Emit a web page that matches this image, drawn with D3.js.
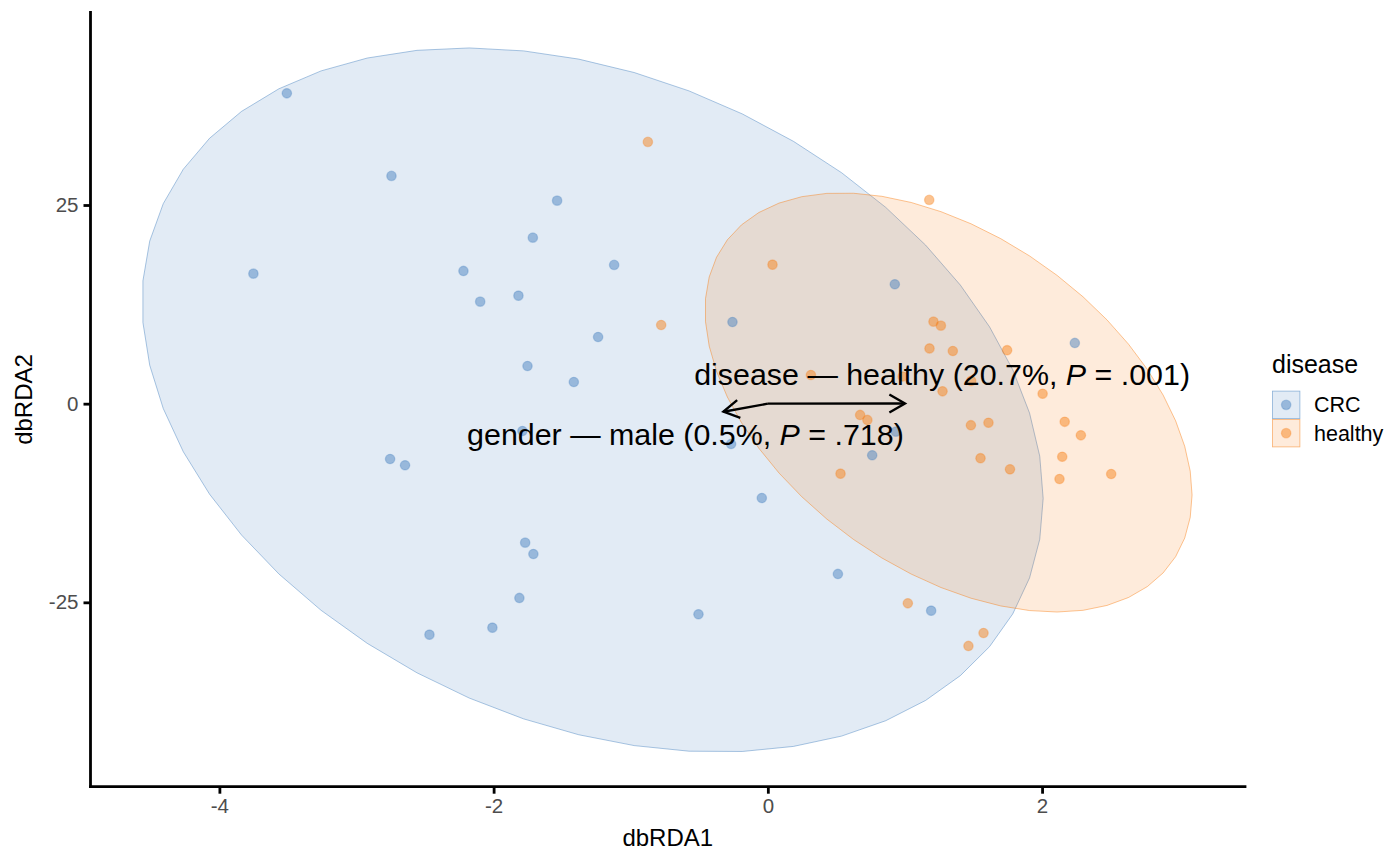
<!DOCTYPE html>
<html>
<head>
<meta charset="utf-8">
<script src="https://cdn.jsdelivr.net/npm/d3@7"></script>
<style>
  html, body { margin: 0; padding: 0; background: #ffffff; }
  svg { display: block; font-family: "Liberation Sans", Arial, Helvetica, sans-serif; }
</style>
</head>
<body>
<svg id="chart" width="1400" height="865"></svg>
<script>
// ---------------- data ----------------
const groups = ["CRC", "healthy"];
const groupColors = ["#3d7bbd", "#f77a0c"];

const crcX = [-3.508, -2.745, -1.537, -1.714, -3.752, -2.220, -1.121, -1.819, -2.098, -1.238,
              -1.753, -1.415, -1.790, -2.755, -2.646, -1.770, -1.710, -1.812, -2.009, -2.468,
              -0.506, 0.511, 1.191, -0.044, -0.268, -0.258, 0.926, 0.761, 2.239, 0.934];
const crcY = [39.06, 28.66, 25.55, 20.89, 16.36, 16.70, 17.46, 13.59, 12.84, 8.39,
              4.74, 2.73, -3.44, -6.96, -7.75, -17.49, -18.92, -24.45, -28.19, -29.07,
              -26.50, -21.43, -26.05, -11.87, -5.07, 10.28, 15.03, -6.49, 7.64, -3.52];

const healthyX = [-0.875, 1.177, 0.034, -0.778, 1.208, 1.262, 1.179, 1.349, 1.745, 0.314,
                  0.983, 1.483, 1.274, 2.004, 0.673, 0.726, 1.481, 1.609, 2.165, 2.283,
                  2.147, 1.551, 1.766, 2.127, 2.504, 0.530, 1.021, 1.573, 1.463];
const healthyY = [32.94, 25.64, 17.49, 9.90, 10.32, 9.82, 6.95, 6.63, 6.73, 3.61,
                  3.42, 2.86, 1.56, 1.25, -1.42, -2.05, -2.71, -2.40, -2.28, -3.98,
                  -6.68, -6.86, -8.26, -9.48, -8.85, -8.81, -25.12, -28.86, -30.49];

// 95% ellipses per group (centre, half-extent along x and y, correlation)
const ellipseCX = [-1.278, 1.318];
const ellipseCY = [0.466, 0.151];
const ellipseHalfW = [3.286, 1.776];
const ellipseHalfH = [44.30, 26.37];
const ellipseCorr = [-0.2798, -0.4415];

// environmental fit arrows
const envNames = ["disease \u2014 healthy", "gender \u2014 male"];
const envPct = ["20.7%", "0.5%"];
const envP = [".001", ".718"];
const arrowX = [1.0, -0.324];
const arrowY = [0.02, -1.01];
const labelX = [1.271, -0.601];
const labelY = [3.67, -3.88];

const xTicks = [-4, -2, 0, 2];
const yTicks = [-25, 0, 25];
const xDomain = [-4.94, 3.48];
const yDomain = [-48.2, 49.25];
const xTitle = "dbRDA1", yTitle = "dbRDA2", legendTitle = "disease";

// ---------------- drawing ----------------
const svg = d3.select("#chart");
const panel = {left: 90.5, right: 1245, top: 12.3, bottom: 786.7};
const x = d3.scaleLinear().domain(xDomain).range([panel.left, panel.right]);
const y = d3.scaleLinear().domain(yDomain).range([panel.bottom, panel.top]);
const color = d3.scaleOrdinal().domain(groups).range(groupColors);

// ellipses
const seg = 51;
groups.forEach((g, i) => {
  const sx = ellipseHalfW[i], sy = ellipseHalfH[i], r = ellipseCorr[i];
  const pts = d3.range(seg + 1).map(k => {
    const t = 2 * Math.PI * k / seg;
    const ex = ellipseCX[i] + Math.cos(t) * sx;
    const ey = ellipseCY[i] + Math.cos(t) * r * sy + Math.sin(t) * sy * Math.sqrt(1 - r * r);
    return [x(ex), y(ey)];
  });
  svg.append("path")
    .attr("d", d3.line()(pts) + "Z")
    .attr("fill", color(g)).attr("fill-opacity", 0.15)
    .attr("stroke", color(g)).attr("stroke-opacity", 0.55).attr("stroke-width", 0.8);
});

// points
const pointData = [];
crcX.forEach((v, i) => pointData.push({g: "CRC", x: v, y: crcY[i]}));
healthyX.forEach((v, i) => pointData.push({g: "healthy", x: v, y: healthyY[i]}));
svg.append("g").selectAll("circle").data(pointData).join("circle")
  .attr("cx", d => x(d.x)).attr("cy", d => y(d.y)).attr("r", 4.7)
  .attr("fill", d => color(d.g)).attr("fill-opacity", 0.45)
  .attr("stroke", d => color(d.g)).attr("stroke-opacity", 0.3).attr("stroke-width", 1.3);

// arrows
const arrowG = svg.append("g").attr("stroke", "#000").attr("stroke-width", 2.4)
  .attr("fill", "none").attr("stroke-linecap", "butt").attr("stroke-linejoin", "miter");
arrowX.forEach((ax, i) => {
  const x0 = x(0), y0 = y(0), x1 = x(ax), y1 = y(arrowY[i]);
  arrowG.append("line").attr("x1", x0).attr("y1", y0).attr("x2", x1).attr("y2", y1);
  const ang = Math.atan2(y1 - y0, x1 - x0), L = 18, a = Math.PI / 6;
  const p1 = [x1 - L * Math.cos(ang - a), y1 - L * Math.sin(ang - a)];
  const p2 = [x1 - L * Math.cos(ang + a), y1 - L * Math.sin(ang + a)];
  arrowG.append("path").attr("d", `M${p1[0]},${p1[1]}L${x1},${y1}L${p2[0]},${p2[1]}`);
});

// arrow labels
envNames.forEach((n, i) => {
  const t = svg.append("text")
    .attr("x", x(labelX[i])).attr("y", y(labelY[i])).attr("dy", "0.35em")
    .attr("text-anchor", "middle").attr("font-size", 30.4).attr("fill", "#000");
  t.append("tspan").text(`${n} (${envPct[i]}, `);
  t.append("tspan").attr("font-style", "italic").text("P");
  t.append("tspan").text(` = ${envP[i]})`);
});

// axes
const fmt = d => String(d);
const xAxis = svg.append("g").attr("transform", `translate(0,${panel.bottom})`)
  .call(d3.axisBottom(x).tickValues(xTicks).tickFormat(fmt).tickSize(7).tickPadding(5));
const yAxis = svg.append("g").attr("transform", `translate(${panel.left},0)`)
  .call(d3.axisLeft(y).tickValues(yTicks).tickFormat(fmt).tickSize(7).tickPadding(5));
[xAxis, yAxis].forEach(a => {
  a.select(".domain").remove();
  a.selectAll(".tick line").attr("stroke", "#000").attr("stroke-width", 2.8);
  a.selectAll(".tick text").attr("fill", "#4d4d4d").attr("font-size", 20.5)
    .attr("font-family", "Liberation Sans, Arial, sans-serif");
});
svg.append("line").attr("x1", panel.left).attr("x2", panel.right)
  .attr("y1", panel.bottom).attr("y2", panel.bottom)
  .attr("stroke", "#000").attr("stroke-width", 2.8).attr("stroke-linecap", "square");
svg.append("line").attr("x1", panel.left).attr("x2", panel.left)
  .attr("y1", panel.top).attr("y2", panel.bottom)
  .attr("stroke", "#000").attr("stroke-width", 2.8).attr("stroke-linecap", "square");

// axis titles
svg.append("text").attr("x", (panel.left + panel.right) / 2).attr("y", 846)
  .attr("text-anchor", "middle").attr("font-size", 24).text(xTitle);
svg.append("text").attr("transform", `translate(32,${(panel.top + panel.bottom) / 2}) rotate(-90)`)
  .attr("text-anchor", "middle").attr("font-size", 24).text(yTitle);

// legend
const lg = svg.append("g").attr("transform", "translate(1272,0)");
lg.append("text").attr("x", 0).attr("y", 373).attr("font-size", 25).text(legendTitle);
groups.forEach((g, i) => {
  const top = 390.7 + i * 28.3;
  lg.append("rect").attr("x", 0).attr("y", top).attr("width", 28.3).attr("height", 28.3)
    .attr("fill", "#fff");
  lg.append("rect").attr("x", 0.4).attr("y", top + 0.4).attr("width", 27.5).attr("height", 27.5)
    .attr("fill", color(g)).attr("fill-opacity", 0.15)
    .attr("stroke", color(g)).attr("stroke-opacity", 0.55).attr("stroke-width", 0.8);
  lg.append("circle").attr("cx", 14.15).attr("cy", top + 14.15).attr("r", 4.7)
    .attr("fill", color(g)).attr("fill-opacity", 0.45)
    .attr("stroke", color(g)).attr("stroke-opacity", 0.3).attr("stroke-width", 1.3);
  lg.append("text").attr("x", 42).attr("y", top + 14.15).attr("dy", "0.35em")
    .attr("font-size", 21.5).attr("fill", "#000").text(g);
});
</script>
</body>
</html>
